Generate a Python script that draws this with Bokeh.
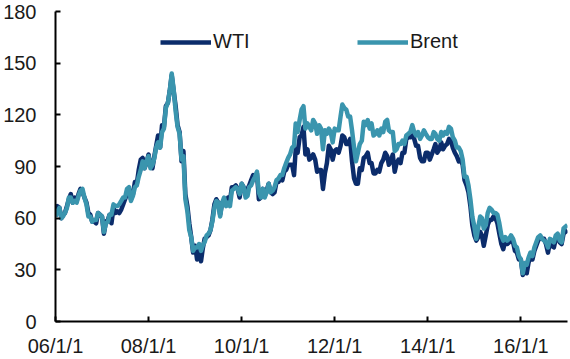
import pandas as pd
from bokeh.plotting import figure
from bokeh.models import FixedTicker, Legend, LegendItem, ColumnDataSource
from bokeh.embed import file_html
from bokeh.resources import INLINE

# ---- data (USD/barrel, two readings per month) ----
wti_2006 = [61, 67, 66, 60, 62, 63, 67, 71, 74, 69, 72, 70, 74, 77, 75, 72, 69, 63, 62, 58, 58, 57, 63, 62]
wti_2007 = [61, 51, 58, 59, 62, 57, 66, 63, 64, 63, 65, 68, 71, 74, 77, 71, 74, 81, 80, 88, 94, 95, 89, 92]
wti_2008 = [97, 90, 89, 96, 102, 108, 101, 114, 113, 125, 127, 134, 143, 134, 125, 114, 110, 93, 99, 74, 67, 57, 49, 40]
wti_2009 = [44, 36, 41, 35, 42, 48, 49, 50, 53, 59, 68, 71, 69, 62, 69, 70, 68, 72, 70, 78, 78, 79, 77, 72]
wti_2010 = [80, 78, 74, 77, 79, 82, 85, 83, 86, 71, 72, 77, 73, 76, 80, 75, 74, 75, 81, 81, 83, 82, 87, 88]
wti_2011 = [91, 91, 91, 85, 100, 98, 107, 108, 113, 97, 100, 94, 95, 97, 94, 87, 88, 88, 77, 86, 92, 102, 100, 94]
wti_2012 = [99, 100, 98, 102, 108, 107, 103, 103, 106, 93, 83, 80, 80, 89, 88, 95, 96, 98, 92, 92, 86, 86, 88, 87]
wti_2013 = [92, 94, 98, 96, 91, 93, 97, 87, 92, 94, 92, 98, 98, 106, 107, 107, 108, 106, 102, 102, 95, 93, 93, 98]
wti_2014 = [98, 94, 97, 100, 103, 98, 100, 104, 100, 102, 103, 106, 105, 101, 98, 96, 93, 94, 91, 82, 79, 75, 67, 56]
wti_2015 = [50, 47, 49, 52, 50, 44, 50, 56, 59, 59, 61, 60, 57, 51, 45, 42, 47, 45, 46, 47, 46, 41, 40, 36]
wti_2016 = [36, 27, 32, 28, 34, 38, 36, 41, 44, 47, 49, 48, 48, 45, 40, 46, 44, 43, 48, 50, 46, 45, 51, 52]
wti_end = [53]

brent_2006 = [61, 64, 66, 60, 61, 63, 66, 72, 72, 69, 70, 69, 73, 76, 77, 72, 68, 61, 61, 58, 59, 59, 63, 62]
brent_2007 = [61, 52, 57, 58, 62, 62, 68, 67, 67, 68, 70, 72, 72, 77, 78, 70, 73, 78, 79, 84, 88, 93, 89, 93]
brent_2008 = [96, 89, 91, 95, 101, 104, 101, 110, 112, 124, 127, 134, 144, 135, 122, 113, 109, 94, 96, 71, 64, 53, 49, 41]
brent_2009 = [43, 43, 45, 41, 44, 46, 50, 51, 53, 58, 66, 70, 69, 61, 69, 72, 67, 69, 67, 76, 77, 78, 77, 74]
brent_2010 = [80, 78, 72, 73, 78, 79, 82, 84, 87, 75, 72, 77, 72, 75, 80, 75, 76, 78, 82, 83, 85, 85, 89, 92]
brent_2011 = [95, 97, 101, 102, 115, 110, 117, 123, 125, 112, 115, 113, 111, 117, 115, 109, 114, 112, 100, 111, 109, 112, 110, 104]
brent_2012 = [112, 111, 111, 119, 126, 124, 123, 119, 119, 111, 101, 93, 98, 103, 105, 116, 114, 117, 112, 115, 108, 109, 111, 108]
brent_2013 = [112, 110, 116, 117, 111, 110, 110, 99, 100, 103, 103, 105, 103, 108, 109, 110, 114, 110, 108, 110, 106, 108, 111, 109]
brent_2014 = [107, 106, 106, 110, 109, 106, 105, 110, 108, 110, 109, 113, 112, 107, 105, 101, 101, 99, 94, 84, 84, 79, 71, 61]
brent_2015 = [55, 48, 55, 61, 60, 54, 56, 63, 66, 65, 63, 63, 62, 57, 50, 47, 49, 47, 48, 50, 48, 44, 43, 38]
brent_2016 = [36, 28, 34, 33, 37, 40, 38, 43, 46, 49, 50, 48, 47, 46, 43, 48, 47, 46, 50, 51, 47, 46, 54, 55]
brent_end = [56]

tick_years = [2006, 2008, 2010, 2012, 2014, 2016]
tick_labels = ["06/1/1", "08/1/1", "10/1/1", "12/1/1", "14/1/1", "16/1/1"]
y_ticks = [0, 30, 60, 90, 120, 150, 180]

wti = (wti_2006 + wti_2007 + wti_2008 + wti_2009 + wti_2010 + wti_2011 +
       wti_2012 + wti_2013 + wti_2014 + wti_2015 + wti_2016 + wti_end)
brent = (brent_2006 + brent_2007 + brent_2008 + brent_2009 + brent_2010 + brent_2011 +
         brent_2012 + brent_2013 + brent_2014 + brent_2015 + brent_2016 + brent_end)

months = pd.date_range("2006-01-01", "2016-12-01", freq="MS")
dates = []
for m in months:
    dates.append(m)
    dates.append(m + pd.Timedelta(days=15))
dates.append(pd.Timestamp("2017-01-01"))

src = ColumnDataSource(dict(date=dates, wti=wti, brent=brent))

FONT = "Liberation Sans"
TXT = "#1a1a1a"

p = figure(width=570, height=359, x_axis_type="datetime",
           x_range=(pd.Timestamp("2006-01-01"), pd.Timestamp("2017-01-01")),
           y_range=(0, 180),
           output_backend="svg", toolbar_location=None,
           min_border_left=55, min_border_right=3, min_border_top=11, min_border_bottom=36)
p.outline_line_color = None
p.xgrid.visible = False
p.ygrid.visible = False
p.background_fill_color = "white"
p.border_fill_color = "white"

r_wti = p.line("date", "wti", source=src, line_color="#0b2c6b", line_width=4.5, line_join="round")
r_brent = p.line("date", "brent", source=src, line_color="#3a95ae", line_width=4.5, line_join="round")

tick_ms = [pd.Timestamp(f"{y}-01-01").value // 10**6 for y in tick_years]
p.xaxis.ticker = FixedTicker(ticks=tick_ms)
p.xaxis.major_label_overrides = {t: lab for t, lab in zip(tick_ms, tick_labels)}
p.yaxis.ticker = FixedTicker(ticks=y_ticks)

for ax in (p.xaxis, p.yaxis):
    ax.axis_line_color = "black"
    ax.axis_line_width = 2
    ax.major_tick_line_color = "black"
    ax.major_tick_line_width = 2
    ax.major_tick_in = 5
    ax.major_tick_out = 0
    ax.minor_tick_line_color = None
    ax.major_label_text_font = FONT
    ax.major_label_text_font_size = "20px"
    ax.major_label_text_color = TXT
    ax.major_label_text_font_style = "normal"
p.xaxis.major_label_standoff = 13
p.yaxis.major_label_standoff = 19

for rend, lab, xpos in ((r_wti, "WTI", 105), (r_brent, "Brent", 302)):
    lg = Legend(items=[LegendItem(label=lab, renderers=[rend])],
                location=(xpos, 268), orientation="horizontal",
                background_fill_alpha=0, border_line_color=None,
                padding=0, margin=0, glyph_width=51, glyph_height=20,
                label_standoff=2, label_height=20,
                label_text_font=FONT, label_text_font_size="20px",
                label_text_color=TXT)
    p.add_layout(lg, "center")

open("out.html", "w").write(file_html(p, INLINE))
